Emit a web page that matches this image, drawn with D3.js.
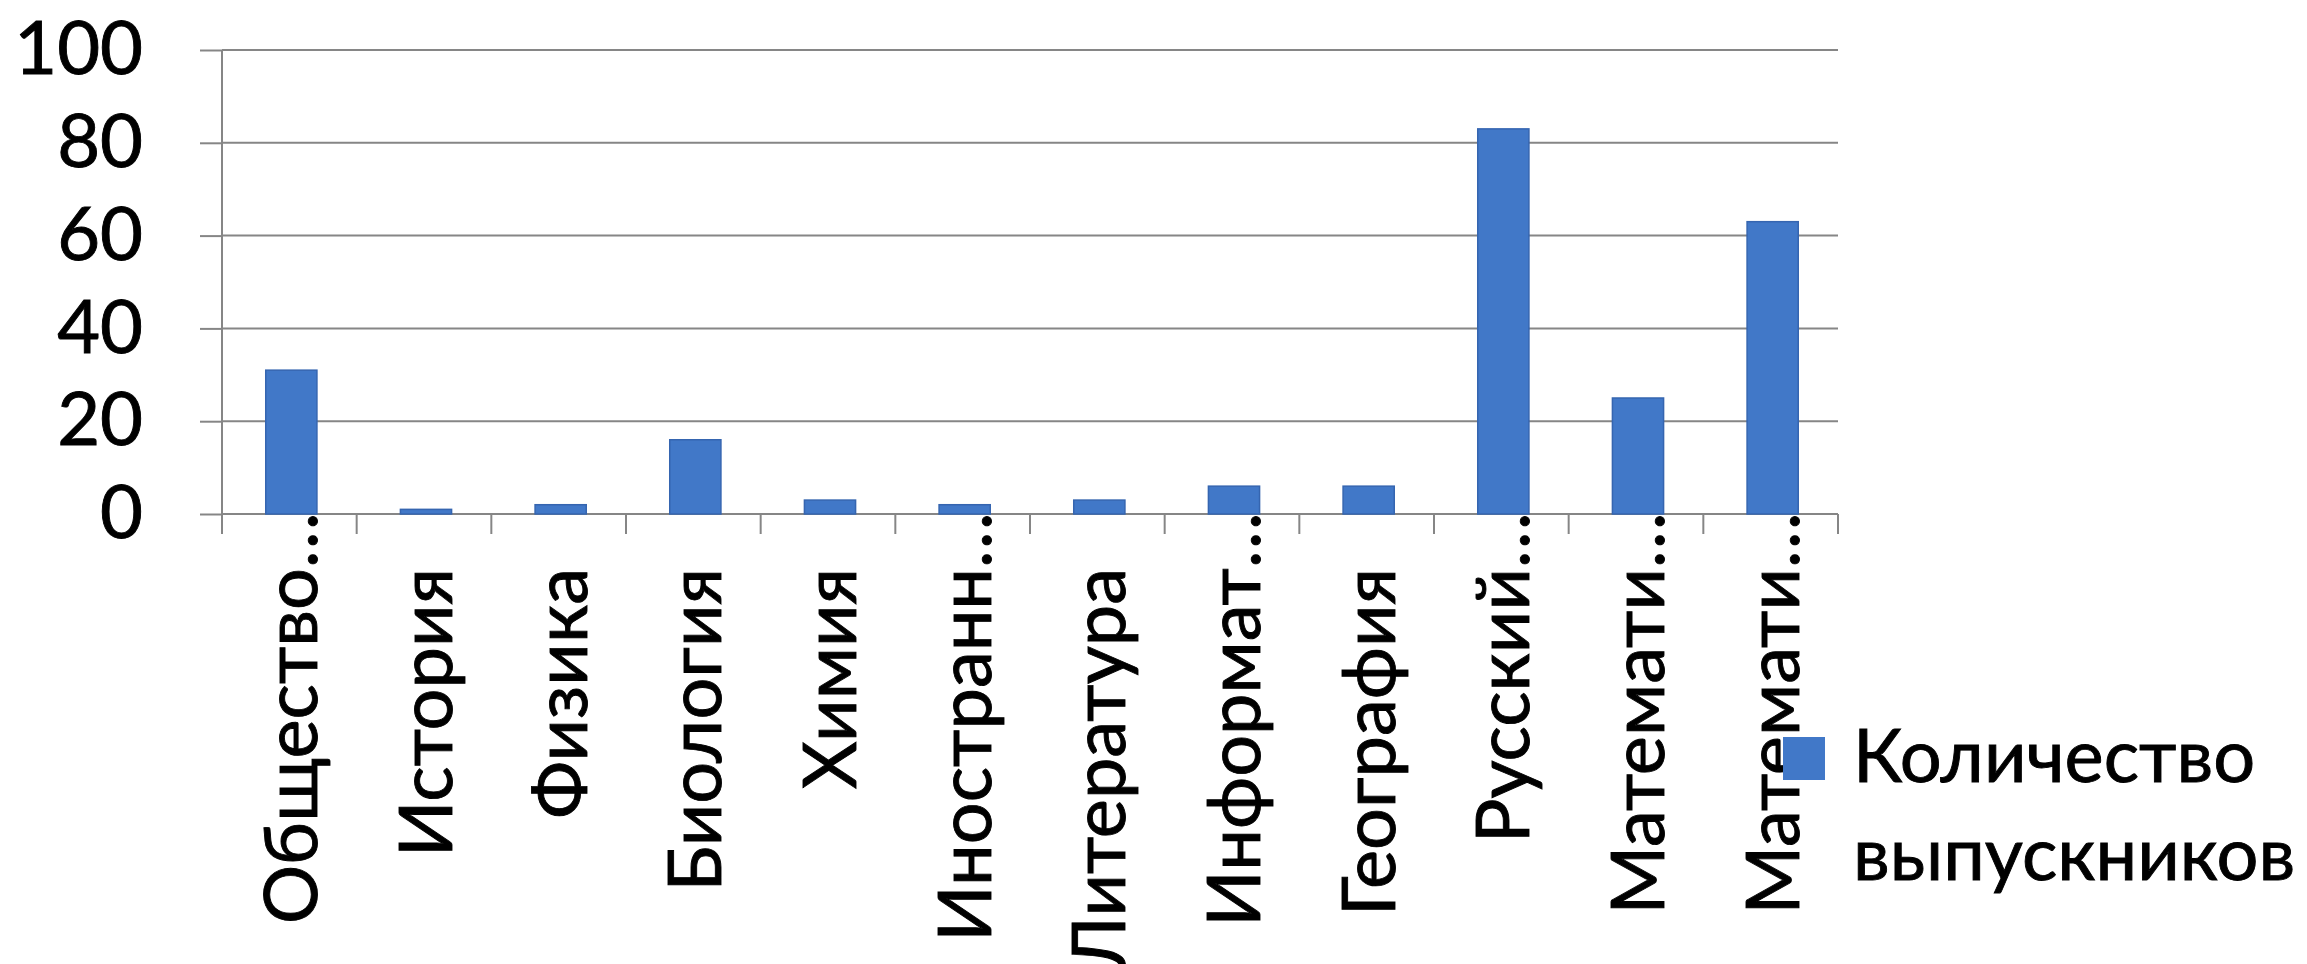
<!DOCTYPE html>
<html>
<head>
<meta charset="utf-8">
<script src="https://cdn.jsdelivr.net/npm/d3@7"></script>
<style>
  html, body { margin: 0; padding: 0; background: #fff; }
  svg text { font-family: Lato, "Open Sans", sans-serif; fill: #000; stroke: #000; stroke-width: 0.9px; }
</style>
</head>
<body>
<svg id="chart" width="2307" height="964"></svg>
<script>
// subjects as printed under the axis (Excel cut the long ones with "…")
const categories = ["Общество…", "История", "Физика", "Биология", "Химия", "Иностранн…",
  "Литература", "Информат…", "География", "Русский…", "Математи…", "Математи…"];
const graduates = [31, 1, 2, 16, 3, 2, 3, 6, 6, 83, 25, 63];
const yTicks = [0, 20, 40, 60, 80, 100];
const seriesName = ["Количество", "выпускников"];

const margin = { top: 50, left: 222 };
const width = 1616, height = 464;
const fontSize = 74;

const svg = d3.select("#chart");
const g = svg.append("g").attr("transform", `translate(${margin.left},${margin.top})`);

// use index keys, two labels are the same text
const keys = categories.map((c, i) => i);
const x = d3.scaleBand().domain(keys).range([0, width]).padding(0);
const y = d3.scaleLinear().domain([0, 100]).range([height, 0]);

// gridlines
g.selectAll(".grid")
  .data(yTicks)
  .enter().append("line")
  .attr("x1", 0).attr("x2", width)
  .attr("y1", d => y(d)).attr("y2", d => y(d))
  .attr("stroke", "#868686").attr("stroke-width", 2);

// y axis, labels only + little ticks to the left
const yAxis = g.append("g")
  .call(d3.axisLeft(y).tickValues(yTicks).tickSize(22).tickPadding(57));
yAxis.select(".domain").remove();
yAxis.selectAll(".tick line").attr("stroke", "#868686").attr("stroke-width", 2);
yAxis.selectAll(".tick text").style("font-size", fontSize + "px").attr("fill", "#000");

// vertical axis line, goes a bit below zero
g.append("line")
  .attr("x1", 0).attr("x2", 0)
  .attr("y1", y(100)).attr("y2", height + 20)
  .attr("stroke", "#868686").attr("stroke-width", 2);

// category boundary ticks
g.selectAll(".ctick")
  .data(keys.slice(1).map(k => x(k)).concat([width]))
  .enter().append("line")
  .attr("x1", d => d).attr("x2", d => d)
  .attr("y1", height).attr("y2", height + 20)
  .attr("stroke", "#868686").attr("stroke-width", 2);

// bars
const barW = x.bandwidth() * 0.38;
g.selectAll(".bar")
  .data(keys)
  .enter().append("rect")
  .attr("class", "bar")
  .attr("x", k => x(k) + (x.bandwidth() - barW) / 2 + 2)
  .attr("y", k => y(graduates[k]))
  .attr("width", barW)
  .attr("height", k => height - y(graduates[k]))
  .attr("fill", "#4178c8")
  .attr("stroke", "#3565b0")
  .attr("stroke-width", 1.5);

// rotated category labels; the ellipsis sticks out towards the axis like in Excel
const labelEnd = height + 54;
const lab = g.selectAll(".clabel")
  .data(keys)
  .enter().append("g")
  .attr("transform", k => `translate(${x(k) + x.bandwidth() / 2},${labelEnd}) rotate(-90)`);

lab.append("text")
  .attr("text-anchor", "end")
  .attr("dy", "0.38em")
  .style("font-size", fontSize + "px")
  .text(k => categories[k].replace("…", ""));

lab.filter(k => categories[k].endsWith("…"))
  .append("text")
  .attr("text-anchor", "start")
  .attr("dy", "0.38em")
  .style("font-size", fontSize + "px")
  .text("…");

// legend
const legend = svg.append("g").attr("transform", "translate(1783,737)");
legend.append("rect")
  .attr("width", 42).attr("height", 43)
  .attr("fill", "#4178c8");
legend.selectAll("text")
  .data(seriesName)
  .enter().append("text")
  .attr("x", 70)
  .attr("y", (d, i) => 45 + i * 98)
  .style("font-size", fontSize + "px")
  .text(d => d);
</script>
</body>
</html>
